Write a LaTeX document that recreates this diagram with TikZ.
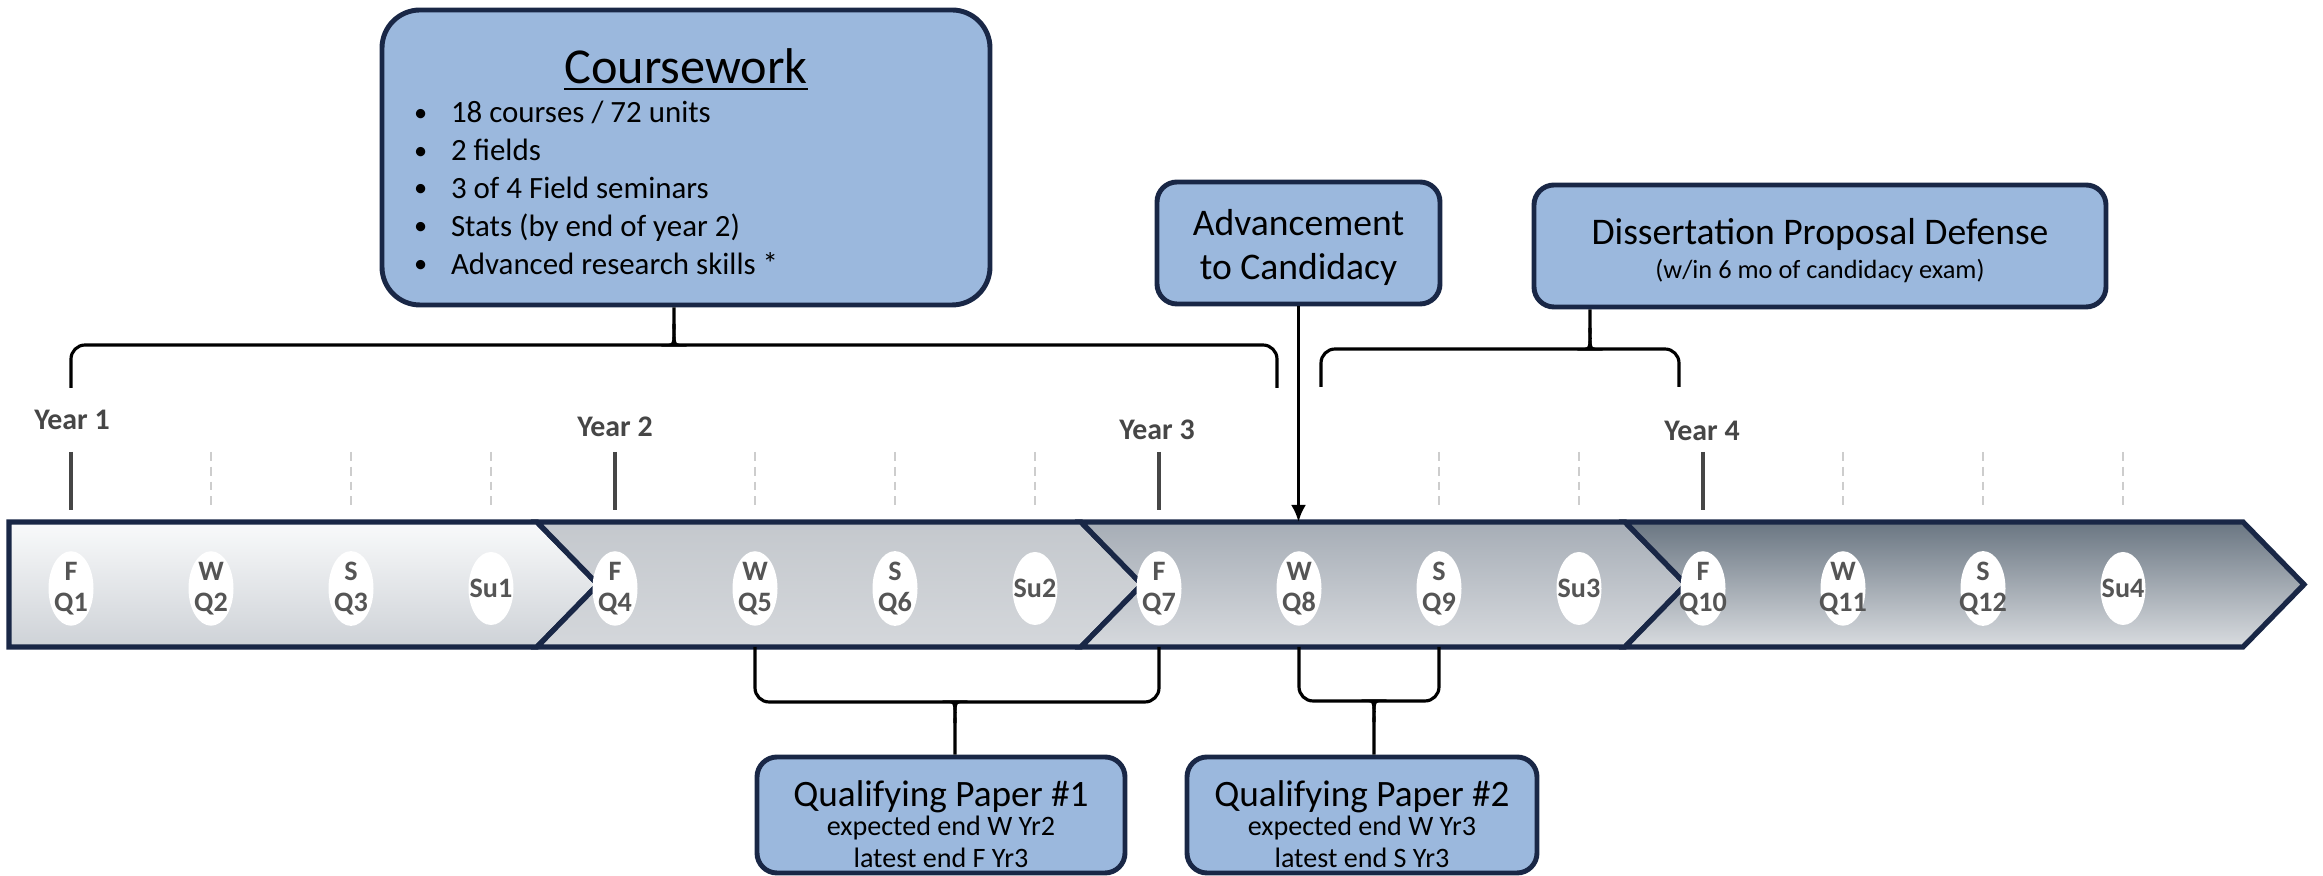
\documentclass[tikz,border=0pt]{standalone}
\usepackage{fontspec}
\setmainfont{Carlito}
\usetikzlibrary{shapes.geometric,arrows.meta}
\definecolor{boxblue}{RGB}{155,184,221}
\definecolor{darknavy}{RGB}{25,39,70}
\definecolor{labgray}{RGB}{85,85,85}
\definecolor{yeargray}{RGB}{70,70,70}
\definecolor{dashgray}{RGB}{205,205,205}
\definecolor{bandAt}{RGB}{249,250,251}
\definecolor{bandAb}{RGB}{206,210,215}
\definecolor{bandBt}{RGB}{196,200,205}
\definecolor{bandBb}{RGB}{212,215,219}
\definecolor{bandCt}{RGB}{166,173,182}
\definecolor{bandCb}{RGB}{214,217,221}
\definecolor{bandDt}{RGB}{106,118,130}
\definecolor{bandDb}{RGB}{217,220,224}
\newcommand{\qtrlab}[2]{\makebox[0pt]{#1}\\\makebox[0pt]{#2}}
\newcommand{\itm}{\makebox[0.37cm][l]{\raisebox{0.4pt}{\fontsize{7.5}{7.5}\selectfont\textbullet}}}
\newcommand{\boxtext}[3]{\parbox[c][#1][t]{#2}{\lineskiplimit=-10pt\parindent=0pt\parskip=0pt #3}}
\tikzset{
  chev/.style={draw=darknavy, line width=1.5pt},
  qtr/.style={ellipse, fill=white, minimum width=0.45cm, minimum height=0.73cm, inner sep=0pt, align=center, text=labgray, font=\bfseries\fontsize{8}{8.8}\selectfont},
  yeartick/.style={draw=yeargray, line width=0.9pt},
  qtick/.style={draw=dashgray, line width=0.7pt, dash pattern=on 2.5pt off 1.7pt},
  yearlab/.style={text=yeargray, font=\bfseries\fontsize{8.5}{10}\selectfont, inner sep=0pt},
  infobox/.style={draw=darknavy, line width=1.4pt, fill=boxblue, rounded corners=0.2cm, align=center, inner sep=0pt},
  brace/.style={draw=black, line width=0.9pt},
  >={Latex[length=0.17cm,width=0.15cm]}
}

\begin{document}
\begin{tikzpicture}
\useasboundingbox (0,0) rectangle (23.23,-8.76);
\coordinate (bandtop) at (0,-5.22);
\coordinate (bandbot) at (0,-6.47);
\coordinate (ticktop) at (0,-4.52);
\coordinate (tickbot) at (0,-5.10);

\draw[chev, top color=bandAt, bottom color=bandAb] (0.09,-5.22) -- (5.37,-5.22) -- (5.98,-5.845) -- (5.37,-6.47) -- (0.09,-6.47) -- cycle;
\draw[chev, top color=bandBt, bottom color=bandBb] (5.37,-5.22) -- (10.81,-5.22) -- (11.42,-5.845) -- (10.81,-6.47) -- (5.37,-6.47) -- (5.98,-5.845) -- cycle;
\draw[chev, top color=bandCt, bottom color=bandCb] (10.81,-5.22) -- (16.25,-5.22) -- (16.86,-5.845) -- (16.25,-6.47) -- (10.81,-6.47) -- (11.42,-5.845) -- cycle;
\draw[chev, top color=bandDt, bottom color=bandDb] (16.25,-5.22) -- (22.43,-5.22) -- (23.04,-5.845) -- (22.43,-6.47) -- (16.25,-6.47) -- (16.86,-5.845) -- cycle;

\node[qtr] (q1) at (0.71,-5.885) {\qtrlab{F}{Q1}};
\node[qtr] (q2) at (2.11,-5.885) {\qtrlab{W}{Q2}};
\node[qtr] (q3) at (3.51,-5.885) {\qtrlab{S}{Q3}};
\node[qtr] (su1) at (4.91,-5.885) {\makebox[0pt]{Su1}};
\node[qtr] (q4) at (6.15,-5.885) {\qtrlab{F}{Q4}};
\node[qtr] (q5) at (7.55,-5.885) {\qtrlab{W}{Q5}};
\node[qtr] (q6) at (8.95,-5.885) {\qtrlab{S}{Q6}};
\node[qtr] (su2) at (10.35,-5.885) {\makebox[0pt]{Su2}};
\node[qtr] (q7) at (11.59,-5.885) {\qtrlab{F}{Q7}};
\node[qtr] (q8) at (12.99,-5.885) {\qtrlab{W}{Q8}};
\node[qtr] (q9) at (14.39,-5.885) {\qtrlab{S}{Q9}};
\node[qtr] (su3) at (15.79,-5.885) {\makebox[0pt]{Su3}};
\node[qtr] (q10) at (17.03,-5.885) {\qtrlab{F}{Q10}};
\node[qtr] (q11) at (18.43,-5.885) {\qtrlab{W}{Q11}};
\node[qtr] (q12) at (19.83,-5.885) {\qtrlab{S}{Q12}};
\node[qtr] (su4) at (21.23,-5.885) {\makebox[0pt]{Su4}};

\draw[yeartick] (q1 |- ticktop) -- (q1 |- tickbot);
\draw[qtick] (q2 |- ticktop) -- (q2 |- tickbot) (q3 |- ticktop) -- (q3 |- tickbot) (su1 |- ticktop) -- (su1 |- tickbot);
\draw[yeartick] (q4 |- ticktop) -- (q4 |- tickbot);
\draw[qtick] (q5 |- ticktop) -- (q5 |- tickbot) (q6 |- ticktop) -- (q6 |- tickbot) (su2 |- ticktop) -- (su2 |- tickbot);
\draw[yeartick] (q7 |- ticktop) -- (q7 |- tickbot);
\draw[qtick] (q8 |- ticktop) -- (q8 |- tickbot) (q9 |- ticktop) -- (q9 |- tickbot) (su3 |- ticktop) -- (su3 |- tickbot);
\draw[yeartick] (q10 |- ticktop) -- (q10 |- tickbot);
\draw[qtick] (q11 |- ticktop) -- (q11 |- tickbot) (q12 |- ticktop) -- (q12 |- tickbot) (su4 |- ticktop) -- (su4 |- tickbot);

\node[yearlab] (year1) at (0.72,-4.20) {Year 1};
\node[yearlab] (year2) at (6.15,-4.27) {Year 2};
\node[yearlab] (year3) at (11.57,-4.30) {Year 3};
\node[yearlab] (year4) at (17.02,-4.31) {Year 4};

\node[infobox, rounded corners=0.38cm, minimum width=6.08cm, minimum height=2.95cm] (coursework) at (6.86,-1.575) {\boxtext{2.95cm}{5.44cm}{\fontsize{8.8}{10.8}\selectfont
{\centering\fontsize{14.3}{17}\selectfont\rule{0pt}{21pt}\underline{Coursework}\par}\vspace{0.2pt}
\itm 18 courses / 72 units\\
\itm 2 fields\\
\itm 3 of 4 Field seminars\\
\itm Stats (by end of year 2)\\
\itm Advanced research skills *}};
\node[infobox, font=\fontsize{10.7}{12.6}\selectfont, minimum width=2.83cm, minimum height=1.22cm] (advance) at (12.985,-2.43) {\rule{0pt}{10pt}Advancement\\to Candidacy};
\node[infobox, font=\fontsize{7.5}{9.8}\selectfont, minimum width=5.72cm, minimum height=1.22cm] (dissert) at (18.20,-2.46) {{\fontsize{10.7}{12}\selectfont\rule{0pt}{10pt}Dissertation Proposal Defense}\\(w/in 6 mo of candidacy exam)};
\node[infobox, minimum width=3.68cm, minimum height=1.16cm] (qpone) at (9.41,-8.15) {\boxtext{1.16cm}{3.3cm}{\centering\fontsize{8}{9.1}\selectfont
{\fontsize{10.6}{12}\selectfont\rule{0pt}{14pt}Qualifying Paper \#1}\\[-0.8pt]expected end W Yr2\\latest end F Yr3}};
\node[infobox, minimum width=3.50cm, minimum height=1.16cm] (qptwo) at (13.62,-8.15) {\boxtext{1.16cm}{3.3cm}{\centering\fontsize{8}{9.1}\selectfont
{\fontsize{10.6}{12}\selectfont\rule{0pt}{14pt}Qualifying Paper \#2}\\[-0.8pt]expected end W Yr3\\latest end S Yr3}};

\coordinate (cwl) at (0.71,-3.88);
\coordinate (cwr) at (12.77,-3.88);
\coordinate (cwtip) at (6.74,-3.45);
\draw[brace] (cwl) [rounded corners=4pt] |- ([xshift=-3pt]cwtip) [sharp corners] to[out=0,in=-90] ([yshift=6pt]cwtip) -- (cwtip |- coursework.south);
\draw[brace] (cwr) [rounded corners=4pt] |- ([xshift=3pt]cwtip) [sharp corners] to[out=180,in=-90] ([yshift=6pt]cwtip);

\coordinate (dpl) at (13.21,-3.87);
\coordinate (dpr) at (16.79,-3.87);
\coordinate (dptip) at (15.90,-3.49);
\draw[brace] (dpl) [rounded corners=4pt] |- ([xshift=-3pt]dptip) [sharp corners] to[out=0,in=-90] ([yshift=6pt]dptip) -- (dptip |- dissert.south);
\draw[brace] (dpr) [rounded corners=4pt] |- ([xshift=3pt]dptip) [sharp corners] to[out=180,in=-90] ([yshift=6pt]dptip);

\coordinate (qpatip) at (9.55,-7.02);
\draw[brace] (q5 |- bandbot) [rounded corners=4pt] |- ([xshift=-3pt]qpatip) [sharp corners] to[out=0,in=90] ([yshift=-6pt]qpatip) -- (qpatip |- qpone.north);
\draw[brace] (q7 |- bandbot) [rounded corners=4pt] |- ([xshift=3pt]qpatip) [sharp corners] to[out=180,in=90] ([yshift=-6pt]qpatip);

\coordinate (qpbtip) at (13.74,-7.01);
\draw[brace] (q8 |- bandbot) [rounded corners=4pt] |- ([xshift=-3pt]qpbtip) [sharp corners] to[out=0,in=90] ([yshift=-6pt]qpbtip) -- (qpbtip |- qptwo.north);
\draw[brace] (q9 |- bandbot) [rounded corners=4pt] |- ([xshift=3pt]qpbtip) [sharp corners] to[out=180,in=90] ([yshift=-6pt]qpbtip);

\draw[->, line width=0.9pt] (advance.south) -- (advance.south |- bandtop);
\end{tikzpicture}
\end{document}
